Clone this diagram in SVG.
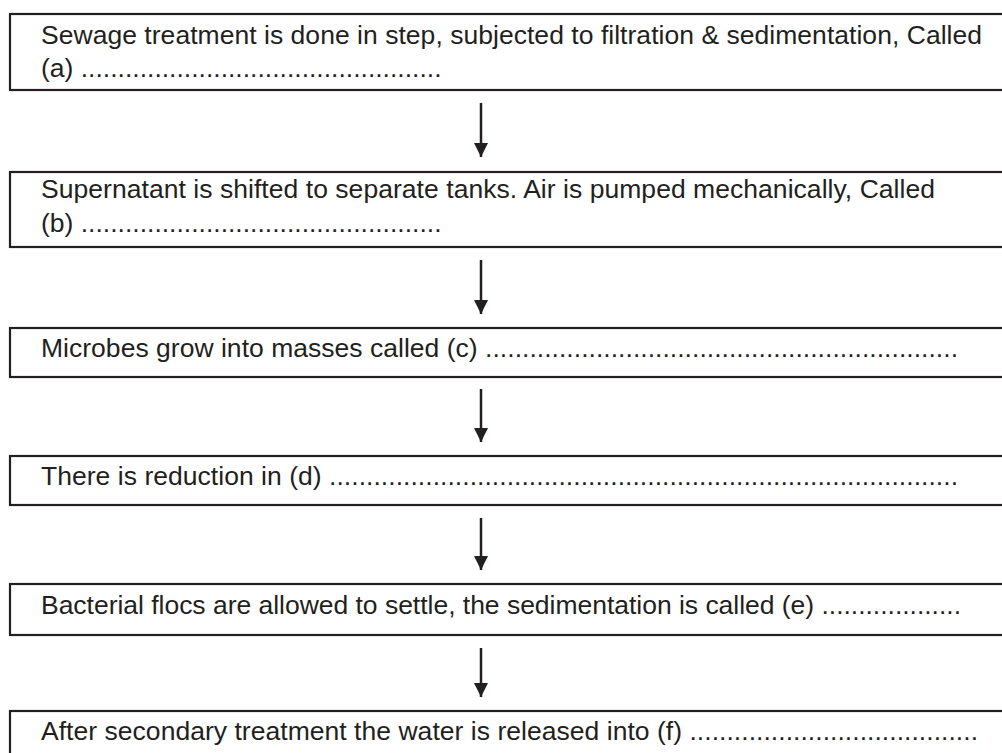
<svg xmlns="http://www.w3.org/2000/svg" width="1002" height="753" viewBox="0 0 1002 753">
  <style>
    .box { fill: #ffffff; stroke: #231f20; stroke-width: 2.2; }
    .lbl { font-family: "Liberation Sans", Arial, sans-serif; font-size: 26.5px; fill: #231f20; }
    .flow { stroke: #231f20; stroke-width: 2.5; fill: none; }
  </style>
  <defs>
    <marker id="head" markerUnits="userSpaceOnUse" markerWidth="16" markerHeight="14" refX="14" refY="7" orient="auto">
      <path d="M0,0 L14,7 L0,14 Z" fill="#231f20"/>
    </marker>
  </defs>
  <rect width="1002" height="753" fill="#ffffff"/>

  <!-- process steps; boxes run past the right edge of the page -->
  <g id="step-a">
    <rect class="box" x="10" y="14" width="1010" height="76"/>
    <text class="lbl" x="41" y="44" textLength="941" lengthAdjust="spacing">Sewage treatment is done in step, subjected to filtration &amp; sedimentation, Called</text>
    <text class="lbl" x="41" y="77">(a) .................................................</text>
  </g>

  <g id="step-b">
    <rect class="box" x="10" y="172" width="1010" height="75"/>
    <text class="lbl" x="41" y="198" textLength="894" lengthAdjust="spacing">Supernatant is shifted to separate tanks. Air is pumped mechanically, Called</text>
    <text class="lbl" x="41" y="232">(b) .................................................</text>
  </g>

  <g id="step-c">
    <rect class="box" x="10" y="328" width="1010" height="49"/>
    <text class="lbl" x="41" y="357" textLength="917" lengthAdjust="spacing">Microbes grow into masses called (c) ................................................................</text>
  </g>

  <g id="step-d">
    <rect class="box" x="10" y="456" width="1010" height="49"/>
    <text class="lbl" x="41" y="485" textLength="917" lengthAdjust="spacing">There is reduction in (d) .....................................................................................</text>
  </g>

  <g id="step-e">
    <rect class="box" x="10" y="584" width="1010" height="51"/>
    <text class="lbl" x="41" y="614" textLength="920" lengthAdjust="spacing">Bacterial flocs are allowed to settle, the sedimentation is called (e) ...................</text>
  </g>

  <g id="step-f">
    <rect class="box" x="10" y="711" width="1010" height="60"/>
    <text class="lbl" x="41" y="740" textLength="937" lengthAdjust="spacing">After secondary treatment the water is released into (f) .......................................</text>
  </g>

  <!-- downward flow arrows between steps -->
  <g id="connectors">
    <line class="flow" x1="481" y1="103" x2="481" y2="157" marker-end="url(#head)"/>
    <line class="flow" x1="481" y1="260" x2="481" y2="314" marker-end="url(#head)"/>
    <line class="flow" x1="481" y1="389" x2="481" y2="442" marker-end="url(#head)"/>
    <line class="flow" x1="481" y1="518" x2="481" y2="570" marker-end="url(#head)"/>
    <line class="flow" x1="481" y1="648" x2="481" y2="697" marker-end="url(#head)"/>
  </g>
</svg>
